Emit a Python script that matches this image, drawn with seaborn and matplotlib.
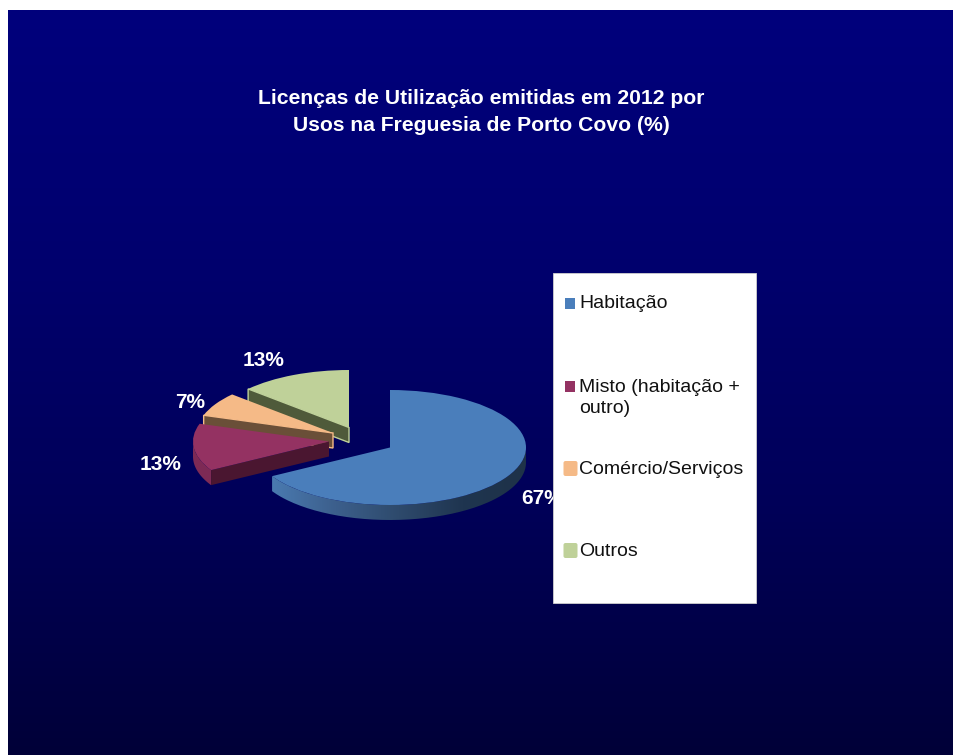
import numpy as np
import matplotlib
matplotlib.use("Agg")
import matplotlib.pyplot as plt
from matplotlib.patches import PathPatch, Rectangle, FancyBboxPatch, Polygon
from matplotlib.path import Path
import seaborn as sns

usos = ["Habitação", "Misto (habitação +\noutro)", "Comércio/Serviços", "Outros"]
percentagens = [66.7, 13.3, 6.7, 13.3]
titulo = "Licenças de Utilização emitidas em 2012 por\nUsos na Freguesia de Porto Covo (%)"

cores = ["#4A7EBB", "#943262", "#F5BA87", "#BFD199"]
cores_faces = [None, "#4A1630", "#6A4F38", "#4F5A3A"]
cores_aro = [None, "#7D2A55", None, None]

W, H = 954, 755
CX, CY, RX, RY = 390.0, 447.5, 136.0, 57.5
DEPTH = 15 / RY
# how far each slice is pulled out of the pie, in pixels
desvios_px = [(0, 0), (-61, -6), (-57, -14.5), (-41, -20)]
pos_rotulos = [(542, 499), (161, 465), (190, 402), (264, 361)]
pos_legenda = [303, 386, 469, 551]

sns.set_theme(style="white")
plt.rcParams["font.family"] = ["Liberation Sans", "DejaVu Sans"]


def px(x, y):
    return (x - CX) / RX, (CY - y) / RY


fig = plt.figure(figsize=(W / 100, H / 100), dpi=100, facecolor="white")

# background gradient
ax_bg = fig.add_axes([8 / W, 0, 1 - 8 / W, 1 - 10 / H])
fundo = sns.blend_palette(["#00007C", "#00006E", "#000058", "#000038"], n_colors=256, as_cmap=True)
ax_bg.imshow(np.linspace(0, 1, 256).reshape(-1, 1), cmap=fundo, aspect="auto")
ax_bg.axis("off")

# the pie, in an axes where one data unit is one radius of the ellipse
ax = fig.add_axes([0, 0, 1, 1])
ax.patch.set_alpha(0)
wedges, _ = ax.pie(percentagens, colors=cores, startangle=90, counterclock=False,
                   wedgeprops=dict(linewidth=0))
ax.set_aspect("auto")

# draw back to front
ordem = {3: 10, 2: 20, 1: 30, 0: 40}
for i, w in enumerate(wedges):
    dx, dy = desvios_px[i][0] / RX, -desvios_px[i][1] / RY
    w.set_center((dx, dy))
    z = ordem[i]
    w.set_zorder(z + 2)

    # rim on the front side of the slice
    a0, a1 = max(w.theta1, -180), min(w.theta2, 0)
    if i in (0, 1):
        t = np.radians(np.linspace(a0, a1, 120))
        top = np.column_stack([dx + np.cos(t), dy + np.sin(t)])
        bot = np.column_stack([dx + np.cos(t[::-1]), dy + np.sin(t[::-1]) - DEPTH])
        caminho = np.vstack([top, bot])
        if i == 0:
            grad = sns.blend_palette(["#4A7AB0", "#3C5F8C", "#2E4A6C", "#1F3550", "#1E3248"],
                                     n_colors=256, as_cmap=True)
            im = ax.imshow(np.linspace(0, 1, 256).reshape(1, -1), cmap=grad, aspect="auto",
                           extent=[caminho[:, 0].min(), caminho[:, 0].max(),
                                   caminho[:, 1].min(), caminho[:, 1].max()], zorder=z)
            clip = PathPatch(Path(caminho), transform=ax.transData, fc="none", ec="none")
            ax.add_patch(clip)
            im.set_clip_path(clip)
        else:
            ax.add_patch(Polygon(caminho, closed=True, fc=cores_aro[i], ec="none", zorder=z))

    # cut face along the slice's radial edge
    if i > 0:
        a = np.radians(w.theta2)
        ex, ey = dx + np.cos(a), dy + np.sin(a)
        face = [(ex, ey), (dx, dy), (dx, dy - DEPTH), (ex, ey - DEPTH)]
        aresta = cores[i] if i > 1 else "none"
        ax.add_patch(Polygon(face, closed=True, fc=cores_faces[i], ec=aresta, lw=1, zorder=z + 1))

ax.set_xlim(px(0, 0)[0], px(W, 0)[0])
ax.set_ylim(px(0, H)[1], px(0, 0)[1])
ax.set_aspect("auto")

# overlay in pixel coordinates for the labels and the legend box
ov = fig.add_axes([0, 0, 1, 1])
ov.set_xlim(0, W)
ov.set_ylim(H, 0)
ov.axis("off")
ov.patch.set_alpha(0)

ov.text(481, 112, titulo, color="white", fontsize=15.2, fontweight="bold", ha="center",
        va="center", linespacing=1.5, zorder=1)

for v, (x, y) in zip(percentagens, pos_rotulos):
    ov.text(x, y, f"{v:.0f}%", color="white", fontsize=15, fontweight="bold",
            ha="center", va="center", zorder=1)

ov.add_patch(Rectangle((553, 273), 203, 330, fc="white", ec="#D0D0D0", lw=0.6, zorder=2))
for i, (nome, y) in enumerate(zip(usos, pos_legenda)):
    if i < 2:
        ov.add_patch(Rectangle((565, y - 5.5), 10, 11, fc=cores[i], ec="none", zorder=3))
    else:
        ov.add_patch(FancyBboxPatch((563.5, y - 8), 14, 15, boxstyle="round,pad=0,rounding_size=2",
                                    fc=cores[i], ec="none", zorder=3))
    ov.text(579, y - 7.5, nome, color="#111111", fontsize=14, ha="left", va="top",
            linespacing=1.31, zorder=3)

fig.savefig("out.png", dpi=100)
